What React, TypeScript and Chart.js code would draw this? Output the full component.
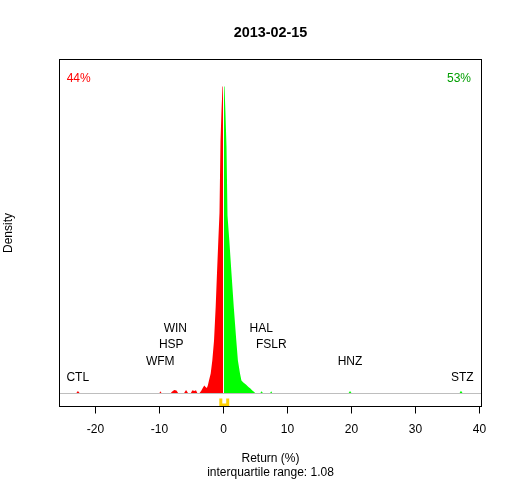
import React, { useEffect, useRef } from "react";
import { Chart, registerables } from "chart.js";

Chart.register(...registerables);

// ---------- data ----------
const chartTitle = "2013-02-15";
const xTicks = [-20, -10, 0, 10, 20, 30, 40];

// density of negative returns (red)
const negX = [
  -23.05, -22.75, -22.42,
  -10.05, -9.85, -9.65,
  -8.3, -8.05, -7.7, -7.35, -7.05,
  -6.2, -5.85, -5.5,
  -5.15, -4.85, -4.55, -4.3, -4.05,
  -3.8, -3.5, -3.2, -3.0, -2.8, -2.6, -2.45, -2.27, -2.0, -1.75, -1.48,
  -1.22, -1.02, -0.81, -0.625, -0.47, -0.31, -0.156, 0,
];
const negY = [
  0, 0.005, 0,
  0, 0.0046, 0,
  0, 0.0034, 0.007, 0.006, 0,
  0, 0.007, 0,
  0, 0.0064, 0.005, 0.0066, 0,
  0, 0.005, 0.012, 0.016, 0.013, 0.011, 0.016, 0.026, 0.04, 0.066, 0.106,
  0.174, 0.24, 0.306, 0.362, 0.504, 0.566, 0.614, 0.614,
];

// density of positive returns (green)
const posX = [
  0, 0.156, 0.31, 0.47, 0.625, 0.91, 1.25, 1.6, 2.0, 2.25, 2.58, 2.8, 3.1,
  3.5, 3.9, 4.2, 4.5, 4.8, 5.0,
  5.7, 5.95, 6.2,
  7.25, 7.45, 7.65,
  19.5, 19.77, 20.05,
  36.85, 37.1, 37.4,
];
const posY = [
  0.614, 0.614, 0.56, 0.494, 0.356, 0.306, 0.24, 0.174, 0.106, 0.066, 0.04,
  0.026, 0.022, 0.018, 0.013, 0.01, 0.006, 0.003, 0,
  0, 0.0046, 0,
  0, 0.0046, 0,
  0, 0.005, 0,
  0, 0.0054, 0,
];

const quartiles = [-0.42, 0.66];
const iqrText = "interquartile range: 1.08";
const pctDown = "44%";
const pctUp = "53%";

const stockNames = ["CTL", "WFM", "HSP", "WIN", "HAL", "FSLR", "HNZ", "STZ"];
const stockReturns = [-22.77, -9.88, -8.16, -7.53, 5.9, 7.47, 19.77, 37.3];
const stockLevels = [1, 2, 3, 4, 4, 3, 2, 1];

// ---------- styling ----------
const FONT = "'Liberation Sans', Arial, sans-serif";
const RED = "#FF0000";
const GREEN = "#00FF00";
const DARKGREEN = "#009E00";
const GOLD = "#FFD000";
const LEVEL_STEP = 0.033;
const RUG_TOP = -0.01;
const RUG_BOTTOM = -0.0228;

const textPlugin = {
  id: "rtext",
  afterDatasetsDraw(chart: any) {
    const { ctx, chartArea, scales } = chart;
    const xs = scales.x;
    const ys = scales.y;
    ctx.save();
    // white separator at zero
    const x0 = xs.getPixelForValue(0);
    const yb = ys.getPixelForValue(0);
    ctx.strokeStyle = "#FFFFFF";
    ctx.lineWidth = 1;
    ctx.beginPath();
    ctx.moveTo(x0, chartArea.top);
    ctx.lineTo(x0, yb);
    ctx.stroke();
    // grey baseline
    ctx.strokeStyle = "#BEBEBE";
    ctx.beginPath();
    ctx.moveTo(chartArea.left, yb);
    ctx.lineTo(chartArea.right, yb);
    ctx.stroke();
    ctx.restore();
  },
  afterDraw(chart: any) {
    const { ctx, chartArea, scales } = chart;
    const xs = scales.x;
    const ys = scales.y;
    ctx.save();
    // box
    ctx.strokeStyle = "#000000";
    ctx.lineWidth = 1;
    ctx.strokeRect(
      chartArea.left,
      chartArea.top,
      chartArea.right - chartArea.left,
      chartArea.bottom - chartArea.top
    );
    ctx.textBaseline = "alphabetic";
    // title
    ctx.fillStyle = "#000000";
    ctx.font = `bold 14.4px ${FONT}`;
    ctx.textAlign = "center";
    const cx = (chartArea.left + chartArea.right) / 2;
    ctx.fillText(chartTitle, cx, 36.7);
    // percentages
    ctx.font = `12px ${FONT}`;
    ctx.textAlign = "left";
    ctx.fillStyle = RED;
    ctx.fillText(pctDown, chartArea.left + 7.2, 81.7);
    ctx.textAlign = "right";
    ctx.fillStyle = DARKGREEN;
    ctx.fillText(pctUp, chartArea.right - 10.5, 81.7);
    // stock labels
    ctx.fillStyle = "#000000";
    ctx.textAlign = "center";
    stockNames.forEach((n, i) => {
      const px = xs.getPixelForValue(stockReturns[i]);
      const py = ys.getPixelForValue(stockLevels[i] * LEVEL_STEP);
      ctx.fillText(n, px, py + 4.4);
    });
    // x title & subtitle
    ctx.fillText("Return (%)", cx, 462);
    ctx.fillText(iqrText, cx, 476);
    // y title
    ctx.translate(11.7, (chartArea.top + chartArea.bottom) / 2);
    ctx.rotate(-Math.PI / 2);
    ctx.fillText("Density", 0, 0);
    ctx.restore();
  },
};

export default function App() {
  const ref = useRef<HTMLCanvasElement | null>(null);
  useEffect(() => {
    if (!ref.current) return;
    const chart = new Chart(ref.current, {
      type: "line",
      data: {
        datasets: [
          {
            data: negX.map((x, i) => ({ x, y: negY[i] })),
            backgroundColor: RED,
            borderWidth: 0,
            pointRadius: 0,
            fill: "origin",
            tension: 0,
          },
          {
            data: posX.map((x, i) => ({ x, y: posY[i] })),
            backgroundColor: GREEN,
            borderWidth: 0,
            pointRadius: 0,
            fill: "origin",
            tension: 0,
          },
          {
            data: [
              { x: quartiles[0], y: RUG_TOP },
              { x: quartiles[0], y: RUG_BOTTOM },
              { x: quartiles[1], y: RUG_BOTTOM },
              { x: quartiles[1], y: RUG_TOP },
            ],
            borderColor: GOLD,
            borderWidth: 3,
            pointRadius: 0,
            fill: false,
            tension: 0,
          },
        ],
      },
      options: {
        animation: false,
        responsive: false,
        devicePixelRatio: 1,
        layout: { padding: { left: 59.5, top: 59.5, right: 30.5, bottom: 0 } },
        plugins: {
          legend: { display: false },
          title: { display: false },
          tooltip: { enabled: false },
        },
        scales: {
          x: {
            type: "linear",
            min: -25.625,
            max: 40.3125,
            afterBuildTicks: (s: any) => {
              s.ticks = xTicks.map((v) => ({ value: v }));
            },
            afterFit: (s: any) => {
              s.height = 73.5;
            },
            grid: {
              display: true,
              drawOnChartArea: false,
              drawTicks: true,
              tickLength: 7,
              color: "#000000",
              lineWidth: 1,
            },
            border: { display: false },
            ticks: {
              color: "#000000",
              font: { family: FONT, size: 12 },
              padding: 9,
              maxRotation: 0,
              autoSkip: false,
            },
          },
          y: {
            display: false,
            min: -0.026,
            max: 0.668,
          },
        },
      },
      plugins: [textPlugin],
    });
    return () => chart.destroy();
  }, []);
  return (
    <div style={{ position: "absolute", left: 0, top: 0, width: 512, height: 480, background: "#fff" }}>
      <canvas ref={ref} width={512} height={480} />
    </div>
  );
}
